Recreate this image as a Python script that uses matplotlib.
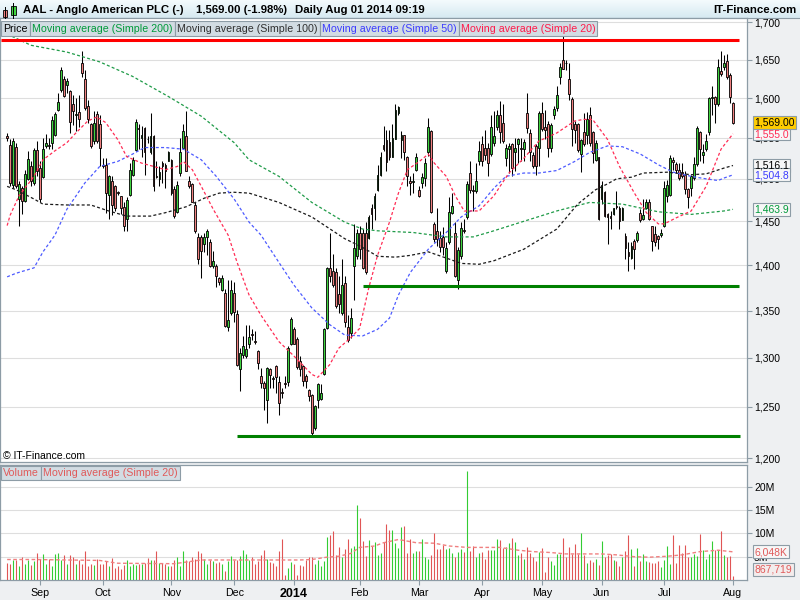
import numpy as np
import pandas as pd
import matplotlib
matplotlib.use("Agg")
import matplotlib.pyplot as plt
from matplotlib.patches import Rectangle
from matplotlib.colors import LinearSegmentedColormap
from matplotlib.ticker import NullLocator

plt.rcParams['font.family'] = ['Liberation Sans', 'DejaVu Sans']

# ---------------------------------------------------------------- text
ticker_title = "AAL - Anglo American PLC (-)"
quote_text = "1,569.00 (-1.98%)"
session_text = "Daily Aug 01 2014 09:19"
site_text = "IT-Finance.com"
copyright_text = "\u00a9 IT-Finance.com"

# ---------------------------------------------------------------- calendar
first_day = "2013-08-15"
last_day = "2014-08-01"
market_holidays = ["2013-08-26", "2013-12-25", "2013-12-26", "2014-01-01",
                   "2014-04-18", "2014-04-21", "2014-05-05", "2014-05-26"]
month_labels = ["Sep", "Oct", "Nov", "Dec", "2014", "Feb", "Mar", "Apr",
                "May", "Jun", "Jul", "Aug"]

# ---------------------------------------------------------------- daily prices (GBp)
opens = [
    1552, 1541, 1493, 1539, 1476, 1489, 1474, 1500, 1515, 1495, 1535, 1513, 1502, 1540, 1541, 1543, 1554, 1585, 1611, 1624,
    1617, 1609, 1593, 1578, 1582, 1646, 1624, 1590, 1567, 1546, 1580, 1567, 1517, 1517, 1481, 1497, 1492, 1484, 1480, 1467,
    1453, 1481, 1505, 1535, 1562, 1550, 1562, 1549, 1532, 1552, 1503, 1500, 1519, 1517, 1522, 1523, 1488, 1461, 1507, 1538,
    1552, 1497, 1494, 1469, 1432, 1432, 1424, 1432, 1426, 1399, 1399, 1386, 1372, 1369, 1333, 1347, 1369, 1346, 1289, 1303,
    1302, 1314, 1325,
    1318, 1307, 1281, 1274, 1257, 1288, 1279, 1292, 1275, 1265, 1274, 1275, 1314, 1330, 1320, 1297, 1292, 1281, 1267, 1262,
    1229, 1257, 1258, 1283, 1331, 1397, 1393, 1392, 1368, 1348, 1380, 1333, 1326, 1399, 1410, 1437, 1437, 1437, 1431, 1466,
    1465, 1487, 1505, 1541, 1547, 1545, 1527, 1549, 1581, 1547, 1553, 1526, 1497, 1496, 1511, 1487, 1495, 1501, 1532, 1558,
    1447, 1439, 1431, 1432, 1393, 1426, 1460, 1436, 1383, 1410, 1440, 1455, 1507, 1487, 1486, 1521, 1542, 1538, 1538, 1530,
    1544,
    1564, 1579, 1569, 1525, 1536, 1542, 1533, 1542, 1537, 1536, 1581, 1556, 1529, 1540, 1538, 1581, 1563, 1567, 1538, 1579,
    1587, 1627, 1650, 1646, 1624, 1599, 1567, 1567, 1530, 1557, 1554, 1579, 1557, 1523, 1526, 1476, 1484, 1458, 1456, 1459,
    1468, 1466, 1452, 1433, 1415, 1408, 1427, 1428, 1460, 1453, 1466, 1473, 1444, 1435, 1433, 1434, 1445, 1480, 1481, 1523,
    1518, 1511, 1508, 1505, 1488, 1489, 1501, 1518, 1557, 1529, 1536, 1557, 1600, 1601, 1592, 1635, 1640, 1648, 1630, 1594,
]
highs = [
    1556, 1548, 1550, 1544, 1497, 1491, 1511, 1534, 1521, 1537, 1546, 1521, 1550, 1555, 1550, 1577, 1582, 1606, 1640, 1628,
    1626, 1610, 1604, 1600, 1604, 1661, 1636, 1597, 1569, 1584, 1583, 1579, 1525, 1525, 1505, 1503, 1493, 1485, 1480, 1472,
    1478, 1519, 1526, 1574, 1567, 1565, 1564, 1552, 1581, 1553, 1521, 1515, 1521, 1519, 1534, 1524, 1491, 1497, 1550, 1567,
    1584, 1503, 1495, 1473, 1437, 1434, 1437, 1441, 1430, 1416, 1401, 1387, 1389, 1374, 1383, 1383, 1381, 1351, 1310, 1323,
    1335, 1335, 1330,
    1328, 1308, 1290, 1276, 1291, 1290, 1281, 1293, 1281, 1269, 1281, 1312, 1343, 1333, 1322, 1302, 1293, 1283, 1268, 1263,
    1252, 1274, 1273, 1331, 1398, 1437, 1413, 1397, 1388, 1407, 1388, 1345, 1353, 1447, 1441, 1445, 1441, 1449, 1457, 1470,
    1483, 1517, 1532, 1565, 1560, 1560, 1567, 1593, 1590, 1558, 1554, 1528, 1503, 1507, 1531, 1491, 1507, 1525, 1575, 1560,
    1449, 1466, 1439, 1443, 1426, 1478, 1483, 1449, 1420, 1449, 1453, 1497, 1521, 1493, 1519, 1546, 1552, 1560, 1544, 1578,
    1584,
    1585, 1596, 1593, 1542, 1544, 1544, 1550, 1550, 1550, 1548, 1606, 1561, 1532, 1542, 1583, 1595, 1585, 1571, 1569, 1590,
    1615, 1645, 1684, 1649, 1645, 1602, 1571, 1569, 1549, 1581, 1582, 1589, 1558, 1547, 1527, 1497, 1485, 1460, 1462, 1466,
    1485, 1468, 1467, 1437, 1426, 1426, 1430, 1439, 1464, 1476, 1476, 1476, 1445, 1445, 1434, 1441, 1497, 1499, 1529, 1527,
    1520, 1519, 1519, 1509, 1489, 1505, 1527, 1565, 1558, 1542, 1555, 1602, 1615, 1603, 1651, 1662, 1656, 1658, 1632, 1595,
]
lows = [
    1546, 1491, 1489, 1489, 1444, 1459, 1472, 1499, 1491, 1493, 1503, 1472, 1501, 1538, 1536, 1536, 1552, 1583, 1608, 1602,
    1606, 1556, 1566, 1558, 1563, 1627, 1585, 1568, 1538, 1542, 1544, 1515, 1513, 1460, 1453, 1457, 1462, 1481, 1459, 1439,
    1439, 1480, 1503, 1534, 1536, 1527, 1505, 1544, 1530, 1485, 1501, 1491, 1495, 1489, 1521, 1481, 1454, 1460, 1504, 1536,
    1510, 1489, 1472, 1437, 1401, 1386, 1415, 1411, 1398, 1397, 1376, 1378, 1371, 1333, 1328, 1345, 1338, 1292, 1266, 1300,
    1300, 1310, 1319,
    1314, 1288, 1269, 1247, 1234, 1269, 1269, 1264, 1242, 1259, 1269, 1271, 1313, 1314, 1289, 1281, 1271, 1269, 1256, 1220,
    1227, 1249, 1257, 1282, 1330, 1381, 1376, 1353, 1347, 1345, 1333, 1317, 1321, 1362, 1407, 1407, 1396, 1390, 1430, 1441,
    1451, 1485, 1503, 1534, 1510, 1523, 1527, 1548, 1579, 1525, 1523, 1491, 1481, 1483, 1509, 1478, 1489, 1491, 1528, 1460,
    1426, 1422, 1415, 1411, 1391, 1424, 1458, 1387, 1374, 1407, 1437, 1453, 1483, 1462, 1483, 1517, 1515, 1523, 1503, 1528,
    1540,
    1560, 1544, 1544, 1515, 1507, 1503, 1509, 1519, 1522, 1521, 1556, 1521, 1513, 1505, 1515, 1558, 1548, 1527, 1532, 1573,
    1583, 1618, 1638, 1636, 1598, 1540, 1544, 1532, 1508, 1540, 1542, 1540, 1519, 1521, 1452, 1470, 1455, 1424, 1441, 1457,
    1464, 1441, 1451, 1407, 1393, 1407, 1396, 1426, 1449, 1451, 1464, 1451, 1416, 1422, 1418, 1432, 1443, 1472, 1480, 1511,
    1507, 1499, 1501, 1482, 1466, 1480, 1499, 1515, 1521, 1519, 1534, 1554, 1579, 1569, 1590, 1628, 1636, 1624, 1594, 1567,
]
closes = [
    1550, 1495, 1546, 1491, 1494, 1474, 1506, 1524, 1497, 1535, 1509, 1476, 1536, 1543, 1540, 1572, 1580, 1595, 1636, 1603,
    1622, 1570, 1583, 1580, 1574, 1633, 1588, 1573, 1540, 1568, 1546, 1538, 1516, 1483, 1503, 1469, 1466, 1483, 1465, 1445,
    1475, 1511, 1523, 1570, 1561, 1553, 1532, 1548, 1552, 1492, 1502, 1508, 1515, 1509, 1533, 1483, 1456, 1493, 1533, 1558,
    1510, 1491, 1473, 1439, 1407, 1416, 1432, 1439, 1399, 1405, 1388, 1381, 1386, 1334, 1340, 1372, 1349, 1293, 1305, 1312,
    1309, 1322, 1324,
    1317, 1295, 1274, 1269, 1290, 1282, 1278, 1280, 1254, 1264, 1273, 1310, 1341, 1315, 1291, 1288, 1276, 1276, 1261, 1224,
    1251, 1273, 1264, 1330, 1397, 1388, 1378, 1355, 1357, 1378, 1338, 1319, 1342, 1419, 1437, 1418, 1397, 1392, 1455, 1459,
    1480, 1505, 1526, 1536, 1520, 1527, 1550, 1585, 1589, 1553, 1532, 1503, 1495, 1497, 1527, 1480, 1502, 1519, 1564, 1461,
    1430, 1430, 1420, 1420, 1419, 1461, 1468, 1388, 1417, 1442, 1439, 1494, 1487, 1486, 1498, 1534, 1522, 1529, 1519, 1563,
    1552,
    1578, 1557, 1546, 1538, 1540, 1513, 1537, 1549, 1536, 1545, 1562, 1532, 1515, 1516, 1581, 1561, 1560, 1538, 1566, 1586,
    1604, 1640, 1638, 1645, 1605, 1561, 1560, 1535, 1547, 1542, 1573, 1544, 1531, 1544, 1453, 1493, 1456, 1455, 1454, 1465,
    1467, 1450, 1465, 1419, 1410, 1422, 1418, 1437, 1451, 1457, 1472, 1453, 1427, 1426, 1430, 1437, 1489, 1493, 1525, 1520,
    1511, 1501, 1503, 1488, 1478, 1503, 1518, 1562, 1536, 1533, 1546, 1600, 1601, 1592, 1640, 1631, 1646, 1627, 1601, 1569.00,
]

# ---------------------------------------------------------------- daily volume (millions of shares)
volumes_m = [
    3.6,
    3.4, 4.4, 4.3, 3.0, 4.9, 3.4, 4.3, 3.2, 4.1, 5.7, 4.6, 5.6, 3.4, 4.6, 2.9, 5.6, 5.7, 4.4, 5.3, 3.4,
    5.3, 4.9, 3.4, 4.3, 3.4, 6.2, 3.0, 3.4, 3.2, 4.6, 3.4, 3.4, 4.1, 3.0, 4.8, 2.5, 3.1, 2.4, 3.2, 4.3,
    2.9, 3.4, 3.2, 3.4, 3.4, 3.6, 4.8, 4.3, 4.4, 6.3, 3.7, 3.6, 3.4, 2.9, 2.9, 4.3, 5.0, 2.9, 6.3, 4.4,
    4.1, 4.9, 4.6, 6.3, 5.9, 4.6, 3.4, 4.3, 4.1, 3.6, 3.9, 3.4, 2.0, 4.1, 5.1, 4.3, 4.4, 5.1, 6.4, 5.6,
    4.3, 4.9, 3.4, 4.1, 5.4, 6.4, 4.6, 3.9, 3.7, 2.9, 6.3, 8.9, 1.1, 2.5, 3.9, 3.4, 1.1, 3.2, 2.9, 4.3,
    4.9, 4.9, 3.4, 4.3, 2.9, 4.1, 9.3, 9.6, 10.5, 5.4, 7.0, 5.0, 6.7, 8.7, 6.8, 7.3, 16.1, 13.4, 8.4, 5.1,
    8.6, 7.4, 8.2, 5.4, 5.7, 8.2, 12.0, 10.7, 10.7, 8.0, 6.8, 11.3,
    11.7, 5.9, 8.7, 5.9, 6.2, 6.2, 8.8, 4.9, 4.6, 5.4, 10.1, 6.6, 6.6, 7.5, 6.6, 6.9, 5.9, 5.0, 6.1, 6.6,
    6.1, 23.4, 6.3, 7.3, 5.0, 5.9, 6.1, 4.6, 6.4, 6.4, 6.4, 8.7, 8.6, 6.8, 7.0, 8.0, 9.1, 8.2, 5.4, 5.9,
    4.6, 7.0, 5.7, 5.0, 4.1, 6.1, 6.8, 1.8, 4.9, 4.1, 3.2, 5.6, 5.6, 9.1, 4.9, 7.1, 5.6, 7.7, 5.6, 10.1,
    5.4, 3.7, 4.3, 3.9, 4.6, 3.2, 8.4, 5.0, 5.4, 5.6, 4.4, 4.1, 2.9, 4.9, 6.3, 9.6, 6.6, 3.0, 6.8, 4.1,
    5.6, 4.1, 3.9, 3.7, 3.7, 4.1, 2.7, 4.3, 7.3, 3.4, 9.6, 3.7, 7.5, 5.7, 7.5, 5.0, 5.0, 5.6, 5.1, 9.8,
    6.4, 4.6, 5.6, 8.4, 6.4, 6.4, 10.6, 5.4, 4.9, 5.1, 0.867719,
]

# ---------------------------------------------------------------- moving averages (trading day, value)
ma200_days = [0, 8, 20, 31, 42, 54, 65, 76, 81, 91, 102, 113, 119, 124, 136, 147, 156, 162, 173, 184,
              195, 206, 218, 229, 240, 243]
ma200_vals = [1684, 1669, 1660, 1647, 1628, 1602, 1577, 1544, 1523, 1503, 1472, 1449, 1441, 1439, 1437,
              1432, 1432, 1438, 1450, 1462, 1472, 1470, 1461, 1458, 1462, 1463.9]

ma100_days = [0, 3, 9, 12, 20, 28, 34, 40, 48, 53, 60, 66, 71, 76, 81, 91, 102, 113, 119, 124, 130, 135,
              141, 147, 152, 158, 163, 173, 184, 191, 197, 201, 204, 209, 213, 221, 229, 234, 240, 243]
ma100_vals = [1491, 1487, 1476, 1470, 1469, 1469, 1462, 1456, 1456, 1460, 1467, 1477, 1483, 1484, 1483,
              1472, 1455, 1430, 1420, 1410, 1409, 1411, 1415, 1408, 1402, 1401, 1405, 1418, 1441, 1470,
              1487, 1494, 1500, 1502, 1507, 1508, 1505, 1506, 1513, 1516.1]

ma50_days = [0, 3, 9, 12, 16, 20, 26, 31, 37, 42, 46, 53, 59, 65, 70, 76, 81, 85, 91, 96, 102, 108, 113,
             119, 124, 128, 131, 135, 141, 147, 152, 158, 163, 167, 173, 178, 184, 190, 195, 201, 206, 212,
             218, 223, 229, 234, 238, 240, 243]
ma50_vals = [1387, 1391, 1397, 1415, 1434, 1464, 1495, 1515, 1521, 1530, 1538, 1538, 1536, 1523, 1503,
             1476, 1449, 1434, 1403, 1378, 1353, 1335, 1324, 1323, 1330, 1342, 1367, 1392, 1418, 1437,
             1455, 1468, 1489, 1503, 1507, 1507, 1510, 1521, 1532, 1540, 1539, 1530, 1517, 1508, 1503,
             1500, 1498, 1501, 1504.8]

ma20_days = [0, 1, 4, 9, 12, 16, 20, 23, 27, 30, 33, 37, 40, 45, 49, 53, 57, 59, 62, 65, 69, 74, 77, 81,
             85, 91, 96, 102, 104, 108, 111, 115, 118, 121, 124, 128, 131, 134, 138, 141, 143, 147, 150,
             153, 158, 163, 165, 168, 173, 178, 184, 190, 193, 196, 201, 205, 210, 214, 218, 220, 224,
             229, 234, 239, 243]
ma20_vals = [1445, 1457, 1480, 1503, 1523, 1534, 1544, 1556, 1571, 1576, 1569, 1548, 1527, 1519, 1515,
             1511, 1515, 1521, 1511, 1491, 1464, 1434, 1403, 1367, 1345, 1317, 1302, 1283, 1280, 1293,
             1310, 1321, 1331, 1374, 1411, 1449, 1483, 1511, 1521, 1530, 1519, 1503, 1480, 1462, 1462,
             1480, 1491, 1507, 1525, 1546, 1556, 1571, 1573, 1573, 1548, 1515, 1483, 1460, 1447, 1447,
             1454, 1462, 1491, 1536, 1555.0]

vol_ma_days = [0, 9, 31, 37, 56, 65, 98, 102, 107, 111, 115, 118, 123, 126, 131, 137, 143, 148, 154, 159,
               165, 171, 176, 182, 187, 193, 199, 204, 210, 215, 221, 226, 232, 238, 243]
vol_ma_vals_m = [4.4, 4.4, 4.2, 3.6, 3.5, 4.3, 4.3, 4.4, 4.9, 5.1, 5.7, 7.0, 7.3, 8.0, 8.7, 8.0, 7.9, 7.3,
                 7.0, 7.0, 7.0, 6.4, 6.1, 5.9, 5.6, 5.6, 5.6, 5.4, 5.0, 4.9, 5.1, 5.4, 6.1, 6.4, 6.048]

# ---------------------------------------------------------------- horizontal trend levels
level_prices = [1676, 1377, 1221]
level_from_day = [-2, 119, 77]
level_to_day = [245, 245, 245.5]
level_colors = ["#ff0000", "#008000", "#008000"]

price_ticks = [1200, 1250, 1300, 1350, 1400, 1450, 1500, 1550, 1600, 1650, 1700]
volume_ticks_m = [5, 10, 15, 20]

# ---------------------------------------------------------------- styling
UP_FILL, DOWN_FILL = "#3fd43f", "#f08080"
VOL_UP, VOL_DOWN = "#33cc33", "#e05555"
FRAME = "#8d9ca6"
PANEL_GREY = "#eef0f2"
GRID = "#dedede"
C200, C100, C50, C20 = "#1f9b48", "#1a1a1a", "#4d5bff", "#ff2d55"
VOL_MA = "#f08080"

W, H = 800, 600
fig = plt.figure(figsize=(W / 100, H / 100), dpi=100)
fig.patch.set_facecolor("white")


def px_rect(x0, y0, x1, y1):
    return [x0 / W, 1 - y1 / H, (x1 - x0) / W, (y1 - y0) / H]


# background layer: header gradient and grey margins
bg = fig.add_axes([0, 0, 1, 1])
bg.set_zorder(-1)
bg.set_xlim(0, W)
bg.set_ylim(H, 0)
bg.axis("off")
hdr_cmap = LinearSegmentedColormap.from_list("hdr", ["#f4fbfd", "#d6e9f1"])
bg.imshow(np.linspace(0, 1, 32)[:, None], extent=(0, W, 18, 0), cmap=hdr_cmap, aspect="auto")
bg.add_patch(Rectangle((747, 18), 53, 582, fc=PANEL_GREY, ec="none"))
bg.add_patch(Rectangle((0, 580), W, 20, fc=PANEL_GREY, ec="none"))
bg.add_patch(Rectangle((0, 462), 747, 3, fc=PANEL_GREY, ec="none"))
bg.plot([0, W], [18, 18], color=FRAME, lw=0.8)

# trading calendar
days = pd.bdate_range(first_day, last_day)
days = days[~days.isin(pd.to_datetime(market_holidays))]
n = len(closes)
x = np.arange(n)
periods = days.to_period("M")
month_pos = [int(np.argmax(periods == p)) for p in pd.period_range("2013-09", "2014-08", freq="M")]

x_left = month_pos[0] - 40 / 2.987
x_right = x_left + 747 / 2.987

o = np.array(opens, float)
hi = np.array(highs, float)
lo = np.array(lows, float)
c = np.array(closes, float)
up = c >= o

# ---------------------------------------------------------------- price panel
ax = fig.add_axes(px_rect(0, 18, 747, 462))
ax.set_yscale("log")
ax.set_ylim(1196.2, 1705.8)
ax.set_xlim(x_left, x_right)
ax.set_facecolor("white")
for s in ax.spines.values():
    s.set_color(FRAME)
    s.set_linewidth(0.9)
ax.set_xticks([])
ax.yaxis.tick_right()
ax.set_yticks(price_ticks)
ax.set_yticklabels([f"{t:,}" for t in price_ticks])
ax.yaxis.set_minor_locator(NullLocator())
ax.tick_params(axis="y", direction="out", length=3.5, width=0.8, color=FRAME,
               labelsize=7.5, pad=1.5, labelcolor="black")
ax.grid(axis="y", color=GRID, lw=0.8)
ax.set_axisbelow(True)

ax.vlines(x, lo, hi, colors="black", lw=0.75, zorder=3)
ax.bar(x, np.abs(c - o), bottom=np.minimum(o, c), width=0.62,
       color=np.where(up, UP_FILL, DOWN_FILL), edgecolor="black", linewidth=0.6, zorder=4)

dash = (2.4, 1.8)
ax.plot(ma200_days, ma200_vals, color=C200, lw=0.9, dashes=dash, zorder=5)
ax.plot(ma100_days, ma100_vals, color=C100, lw=0.9, dashes=dash, zorder=5)
ax.plot(ma50_days, ma50_vals, color=C50, lw=0.9, dashes=dash, zorder=5)
ax.plot(ma20_days, ma20_vals, color=C20, lw=0.9, dashes=dash, zorder=5)

for lvl, d0, d1, col in zip(level_prices, level_from_day, level_to_day, level_colors):
    ax.hlines(lvl, d0, d1, color=col, lw=2.2, zorder=6)

# ---------------------------------------------------------------- volume panel
axv = fig.add_axes(px_rect(0, 465, 747, 580))
vol = np.array(volumes_m, float)
axv.set_ylim(0, 24.7)
axv.set_xlim(x_left, x_right)
for s in axv.spines.values():
    s.set_color(FRAME)
    s.set_linewidth(0.9)
axv.yaxis.tick_right()
axv.set_yticks(volume_ticks_m)
axv.set_yticklabels([f"{t}M" for t in volume_ticks_m])
axv.tick_params(axis="y", direction="out", length=3.5, width=0.8, color=FRAME,
                labelsize=7.5, pad=1.5)
axv.grid(axis="y", color=GRID, lw=0.8)
axv.set_axisbelow(True)
axv.vlines(x, 0, vol, colors=np.where(up, VOL_UP, VOL_DOWN), lw=0.8, zorder=3)
axv.plot(vol_ma_days, vol_ma_vals_m, color=VOL_MA, lw=1.0, dashes=(2.6, 1.8), zorder=4)

axv.set_xticks(month_pos)
axv.set_xticklabels(month_labels)
axv.tick_params(axis="x", direction="out", length=3.5, width=0.8, color=FRAME,
                labelsize=7.7, pad=2.5)
for lab in axv.get_xticklabels():
    if lab.get_text() == "2014":
        lab.set_fontweight("bold")
        lab.set_fontsize(9)

# ---------------------------------------------------------------- overlay: header, legends, value tags
ov = fig.add_axes([0, 0, 1, 1])
ov.set_zorder(10)
ov.set_xlim(0, W)
ov.set_ylim(H, 0)
ov.axis("off")
ov.patch.set_alpha(0)

# candle icon
ov.plot([5.3, 5.3], [7, 18], color="black", lw=0.7)
ov.add_patch(Rectangle((3.3, 10), 4, 6.5, fc=DOWN_FILL, ec="black", lw=0.6))
ov.plot([13.3, 13.3], [2.5, 18], color="black", lw=0.7)
ov.add_patch(Rectangle((11.3, 5.5), 4.2, 9.5, fc=UP_FILL, ec="black", lw=0.6))

ov.text(22.7, 9.6, ticker_title, fontsize=8.2, fontweight="bold", va="center", ha="left")
ov.text(196, 9.6, quote_text, fontsize=8.2, fontweight="bold", va="center", ha="left")
ov.text(294.7, 9.6, session_text, fontsize=8.2, fontweight="bold", va="center", ha="left")
ov.text(796, 9.6, site_text, fontsize=8.2, fontweight="bold", va="center", ha="right")


def label_box(x0, x1, y0, y1, text, color):
    ov.add_patch(Rectangle((x0, y0), x1 - x0, y1 - y0, fc="#d2dce3", ec=FRAME, lw=0.8))
    ov.text(x0 + 2.4, (y0 + y1) / 2 + 0.4, text, color=color, fontsize=7.7, va="center", ha="left")


label_box(0.5, 29.5, 20.5, 36, "Price", "black")
label_box(29.5, 175, 20.5, 36, "Moving average (Simple 200)", "#009a3a")
label_box(175, 320, 20.5, 36, "Moving average (Simple 100)", "#303030")
label_box(320, 459, 20.5, 36, "Moving average (Simple 50)", "#3c3cff")
label_box(459, 597, 20.5, 36, "Moving average (Simple 20)", "#ff1a4a")

label_box(0.5, 41, 466, 480, "Volume", "#e05a5a")
label_box(41, 180, 466, 480, "Moving average (Simple 20)", "#e05a5a")

ov.text(3, 456, copyright_text, fontsize=7.5, va="center", ha="left")


def ypix(axes, value):
    return H - axes.transData.transform((0, value))[1]


def value_tag(ypos, text, color, fill, width):
    ov.add_patch(Rectangle((752.5, ypos - 6.5), width, 13, fc=fill, ec=FRAME, lw=0.8))
    ov.text(754.6, ypos + 0.4, text, color=color, fontsize=7.5, va="center", ha="left")


value_tag(ypix(ax, ma20_vals[-1]), f"{ma20_vals[-1]:,.1f}", C20, "#f7f7f7", 37)
value_tag(ypix(ax, closes[-1]), f"{closes[-1]:,.2f}", "black", "#ffcc00", 43.5)
value_tag(ypix(ax, ma100_vals[-1]), f"{ma100_vals[-1]:,.1f}", "black", "#f7f7f7", 37)
value_tag(ypix(ax, ma50_vals[-1]), f"{ma50_vals[-1]:,.1f}", "#3c3cff", "#f7f7f7", 37)
value_tag(ypix(ax, ma200_vals[-1]), f"{ma200_vals[-1]:,.1f}", "#009a3a", "#f7f7f7", 37)

value_tag(ypix(axv, vol_ma_vals_m[-1]), f"{vol_ma_vals_m[-1] * 1000:,.0f}K", "#e05a5a", "#f7f7f7", 36)
last_vol_y = min(ypix(axv, volumes_m[-1]), 580 - 11)
value_tag(last_vol_y, f"{volumes_m[-1] * 1e6:,.0f}", "#e05a5a", "#f3ecec", 41)

fig.savefig("out.png", dpi=100)
